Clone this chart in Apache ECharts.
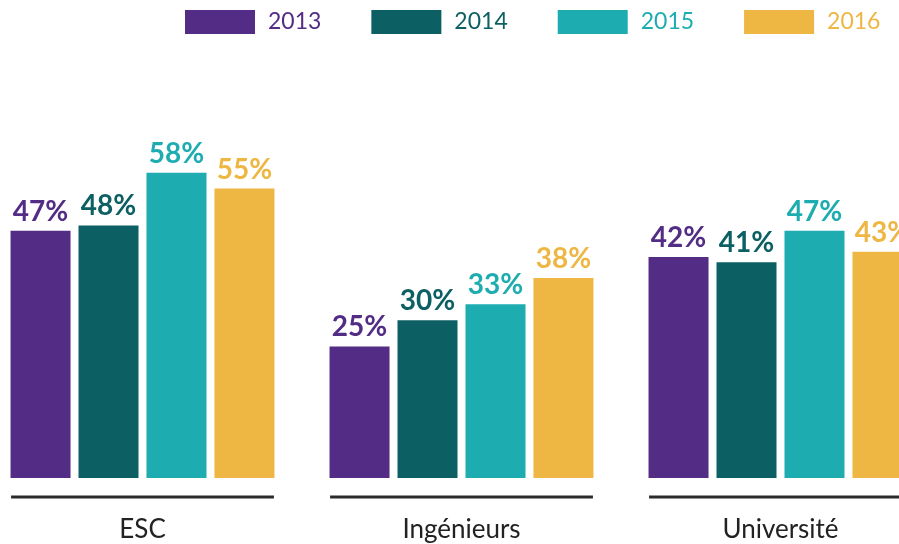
<!DOCTYPE html>
<html>
<head>
<meta charset="utf-8">
<script src="https://cdn.jsdelivr.net/npm/echarts@6/dist/echarts.min.js"></script>
<style>
  html, body { margin: 0; padding: 0; background: #fff; overflow: hidden; width: 899px; height: 544px; }
  #chart { position: absolute; left: -17px; top: 0; width: 957px; height: 544px; }
</style>
</head>
<body>
<div id="chart"></div>
<script>
// catégories et valeurs (en %)
const categories = ['ESC', 'Ingénieurs', 'Université']
const years = ['2013', '2014', '2015', '2016']
const v2013 = [47, 25, 42]
const v2014 = [48, 30, 41]
const v2015 = [58, 33, 47]
const v2016 = [55, 38, 43]

const colors = ['#532C85', '#0C5F63', '#1DACB0', '#EEB643']
const font = 'Lato, "Noto Sans", sans-serif'

const chart = echarts.init(document.getElementById('chart'))

function barSeries(name, data, color) {
  return {
    name: name,
    type: 'bar',
    data: data,
    barWidth: 60,
    barGap: '13.3%',
    itemStyle: { color: color },
    label: {
      show: true,
      position: 'top',
      distance: 5,
      formatter: '{c}%',
      color: color,
      fontFamily: font,
      fontWeight: 'bold',
      fontSize: 28
    }
  }
}

const valueSets = [v2013, v2014, v2015, v2016]

chart.setOption({
  animation: false,
  color: colors,
  legend: {
    top: 10,
    left: 202,
    padding: 0,
    itemWidth: 70,
    itemHeight: 24,
    itemGap: 50,
    icon: 'rect',
    textStyle: { fontFamily: font, fontSize: 23, padding: [0, 0, 0, 8] },
    data: years.map(function (y, i) {
      return { name: y, textStyle: { color: colors[i] } }
    })
  },
  grid: { left: 0, right: 0, top: 57, bottom: 66 },
  xAxis: {
    type: 'category',
    data: categories,
    axisLine: { show: false },
    axisTick: { show: false },
    axisLabel: {
      margin: 39,
      color: '#222',
      fontFamily: font,
      fontSize: 26
    }
  },
  yAxis: {
    type: 'value',
    min: 0,
    max: 80,
    show: false,
    splitLine: { show: false }
  },
  series: years.map(function (y, i) {
    return barSeries(y, valueSets[i], colors[i])
  }).concat([{
    // trait sous chaque groupe
    type: 'custom',
    silent: true,
    data: categories.map(function (c, i) { return [i] }),
    encode: { x: 0 },
    renderItem: function (params, api) {
      const p = api.coord([api.value(0), 0])
      const w = api.size([1, 0])[0]
      const half = w * 0.412
      return {
        type: 'line',
        shape: { x1: p[0] - half, y1: p[1] + 19, x2: p[0] + half, y2: p[1] + 19 },
        style: { stroke: '#2a2a2a', lineWidth: 3 }
      }
    }
  }])
})
</script>
</body>
</html>
